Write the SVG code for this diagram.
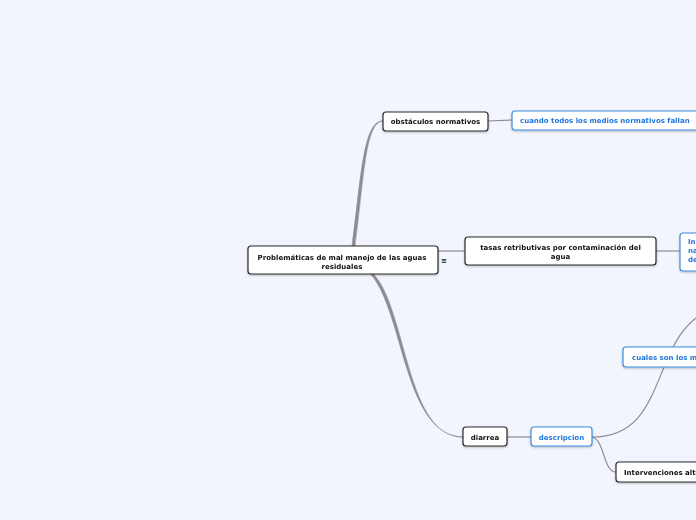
<svg xmlns="http://www.w3.org/2000/svg" width="696" height="520" viewBox="0 0 696 520">
<style>
.bg{fill:#f2f5fd}
.n{fill:#fff;stroke:#2b2b2b;stroke-width:1.2}
.b{fill:#fff;stroke:#3d8ee0;stroke-width:1.2}
.t{font-family:"DejaVu Sans",Verdana,sans-serif;font-weight:bold;font-size:7px;fill:#111}
.tb{font-family:"DejaVu Sans",Verdana,sans-serif;font-weight:bold;font-size:7px;fill:#1f77e0}
.c{fill:none;stroke:#8c8c92;stroke-width:1.2}
.m{fill:#8c8c92;stroke:#8c8c92;stroke-width:0.5;stroke-linejoin:round}
</style>
<defs>
<filter id="sh" x="-10%" y="-20%" width="120%" height="150%">
<feDropShadow dx="0" dy="1" stdDeviation="0.8" flood-color="#000" flood-opacity="0.25"/>
</filter>
</defs>
<rect class="bg" x="0" y="0" width="696" height="520"/>
<g id="connectors">
<path class="m" d="M352,246 C361,178 363,120.7 383,120.7 L383,121.3 C365,121.3 364,180 355,246 Z"/>
<path class="m" d="M370.5,274 C404,312 404,436.7 463,436.7 L463,437.3 C406,437.3 407,310 373.5,274 Z"/>
<path class="c" d="M438,251 L465,251"/>
<path class="c" d="M488,121 L512,120"/>
<path class="c" d="M656,251 L680,251"/>
<path class="c" d="M507,437 L531,437"/>
<path class="c" d="M592,437 C640,437 650,400 665,365 C675,340 685,325 700,315"/>
<path class="c" d="M592,437 C605,440 603,472 616,472"/>
</g>
<g id="central" filter="url(#sh)">
<rect class="n" x="248" y="246" width="190" height="28" rx="3"/>
<text class="t" x="342" y="259.5" text-anchor="middle">Problemáticas de mal manejo de las aguas</text>
<text class="t" x="342" y="268.5" text-anchor="middle">residuales</text>
</g>
<g id="menu-icon">
<text class="t" x="444" y="263" text-anchor="middle" font-size="8">≡</text>
</g>
<g id="obstaculos" filter="url(#sh)">
<rect class="n" x="383" y="112" width="105" height="19" rx="3"/>
<text class="t" x="435.5" y="124" text-anchor="middle">obstáculos normativos</text>
</g>
<g id="cuando" filter="url(#sh)">
<rect class="b" x="512" y="111" width="190" height="19" rx="3"/>
<text class="tb" x="520" y="123">cuando todos los medios normativos fallan</text>
</g>
<g id="tasas" filter="url(#sh)">
<rect class="n" x="465" y="237" width="191" height="28" rx="3"/>
<text class="t" x="560.5" y="249.5" text-anchor="middle">tasas retributivas por contaminación del</text>
<text class="t" x="560.5" y="258.5" text-anchor="middle">agua</text>
</g>
<g id="in-node" filter="url(#sh)">
<rect class="b" x="680" y="233" width="30" height="38" rx="3"/>
<text class="tb" x="688" y="244">In</text>
<text class="tb" x="688" y="253">na</text>
<text class="tb" x="688" y="262">de</text>
</g>
<g id="cuales" filter="url(#sh)">
<rect class="b" x="623" y="347" width="90" height="20" rx="3"/>
<text class="tb" x="632" y="360">cuales son los m</text>
</g>
<g id="diarrea" filter="url(#sh)">
<rect class="n" x="463" y="427" width="44" height="19" rx="3"/>
<text class="t" x="485" y="439.5" text-anchor="middle">diarrea</text>
</g>
<g id="descripcion" filter="url(#sh)">
<rect class="b" x="531" y="427" width="61" height="19" rx="3"/>
<text class="tb" x="561.5" y="439.5" text-anchor="middle">descripcion</text>
</g>
<g id="intervenciones" filter="url(#sh)">
<rect class="n" x="616" y="462" width="100" height="20" rx="3"/>
<text class="t" x="624" y="475">Intervenciones alte</text>
</g>
</svg>
